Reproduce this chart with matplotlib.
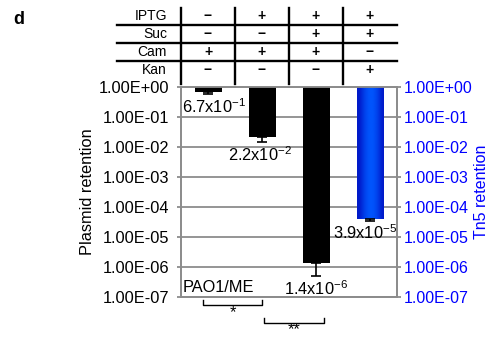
import numpy as np
import matplotlib
matplotlib.use("Agg")
import matplotlib.pyplot as plt
from matplotlib.ticker import FuncFormatter, FixedLocator
import matplotlib.transforms as mtransforms
from matplotlib.colors import LinearSegmentedColormap

plt.rcParams['font.family'] = ['Liberation Sans', 'DejaVu Sans']
plt.rcParams['mathtext.fontset'] = 'custom'
plt.rcParams['mathtext.rm'] = 'Liberation Sans'
plt.rcParams['mathtext.it'] = 'Liberation Sans:italic'
plt.rcParams['mathtext.bf'] = 'Liberation Sans:bold'

# ---- data ----
conditions = ['IPTG', 'Suc', 'Cam', 'Kan']
iptg = ['−', '+', '+', '+']
suc = ['−', '−', '+', '+']
cam = ['+', '+', '+', '−']
kan = ['−', '−', '−', '+']
retention = [0.67, 2.2e-2, 1.4e-6, 3.9e-5]
err_low = [0.58, 1.45e-2, 5.0e-7, 3.5e-5]
value_labels = [r'6.7x10$^{\mathregular{-1}}$', r'2.2x10$^{\mathregular{-2}}$',
                r'1.4x10$^{\mathregular{-6}}$', r'3.9x10$^{\mathregular{-5}}$']
strain_label = 'PAO1/ME'
sig_labels = ['*', '**']
yticks = [10.0 ** e for e in range(0, -8, -1)]

W, H = 490, 337
fig = plt.figure(figsize=(W / 100, H / 100), dpi=100)
ax = fig.add_axes([181 / W, 1 - 297 / H, 216 / W, 210 / H])
ax2 = ax.twinx()

x = np.arange(len(retention))
grey = '#8c8c8c'
blue = '#0000ff'
fs = 11.8
fs_r = 11.5

for a in (ax, ax2):
    a.set_yscale('log')
    a.set_ylim(1e-7, 1)
    a.set_xlim(-0.5, 3.5)
    a.yaxis.set_major_locator(FixedLocator(yticks))
    a.yaxis.set_minor_locator(FixedLocator([]))
    a.yaxis.set_major_formatter(FuncFormatter(lambda v, p: f"{v:.2E}"))
    for s in a.spines.values():
        s.set_color(grey)
        s.set_linewidth(1.3)
    a.tick_params(axis='y', which='major', length=3, width=1.3, color=grey)
    a.tick_params(axis='x', length=0, labelbottom=False)

ax.tick_params(axis='y', labelcolor='black', pad=5.5, labelsize=fs)
ax2.tick_params(axis='y', labelcolor=blue, pad=2, labelsize=fs_r)
ax.set_zorder(1)
ax.patch.set_visible(False)
ax2.set_zorder(0)

for yv in yticks:
    ax2.axhline(yv, color=grey, lw=1.3, zorder=0)

# black bars (plasmid retention), hanging from 1
for i in range(3):
    ax.bar(x[i], 1 - retention[i], bottom=retention[i], width=0.5,
           color='black', zorder=2)
    ax.errorbar(x[i], retention[i], yerr=[[retention[i] - err_low[i]], [0]],
                color='black', lw=1.2, capsize=3.6, capthick=1.2, zorder=3)

# blue bar (Tn5 retention) with gradient
b = ax.bar(x[3], 1 - retention[3], bottom=retention[3], width=0.5,
           color='#0040ff', zorder=2)[0]
grad = np.array([[0.0, 0.5, 0.85, 1.0, 0.85, 0.5, 0.0]])
cmap = LinearSegmentedColormap.from_list('bl', ['#0018c8', '#0058ff'])
im = ax.imshow(grad, cmap=cmap, aspect='auto', interpolation='bicubic',
               extent=[x[3] - 0.25, x[3] + 0.25, retention[3], 1], zorder=2)
im.set_clip_path(b)
ax.set_xlim(-0.5, 3.5)
ax.set_ylim(1e-7, 1)
ax.errorbar(x[3], retention[3], yerr=[[retention[3] - err_low[3]], [0]],
            color='black', lw=1.2, capsize=3.6, capthick=1.2, zorder=3)

# value labels
dx = [0.11, -0.03, 0.0, -0.09]
for i in range(4):
    ax.annotate(value_labels[i], (x[i] + dx[i], err_low[i]), xytext=(0, -2),
                textcoords='offset points', ha='center', va='top',
                fontsize=fs, zorder=5)

ax.text(0.2, 10 ** -6.68, strain_label, ha='center', va='center',
        fontsize=fs, zorder=5)

ax.set_ylabel('Plasmid retention', fontsize=fs, labelpad=3)
ax2.set_ylabel('Tn5 retention', fontsize=fs_r, color=blue, labelpad=1)

# ---- condition table above ----
tb = mtransforms.blended_transform_factory(ax.transData, fig.transFigure)
fy = lambda py: 1 - py / H
rows = [iptg, suc, cam, kan]
row_y = [16, 34, 52, 70]
line_y = [25, 43, 61]
for lbl, vals, ry in zip(conditions, rows, row_y):
    fig.text(167 / W, fy(ry), lbl, ha='right', va='center', fontsize=10)
    for i, v in enumerate(vals):
        ax.text(x[i], fy(ry), v, transform=tb, ha='center', va='center',
                fontsize=10, fontweight='bold', clip_on=False)
for ly in line_y:
    fig.add_artist(plt.Line2D([117 / W, 397 / W], [fy(ly), fy(ly)],
                              color='black', lw=1.7))
for xb in x - 0.5:
    fig.add_artist(plt.Line2D([xb, xb], [fy(8), fy(84)], transform=tb,
                              color='black', lw=1.7))

# ---- significance brackets ----
def bracket(x0, x1, ytop, ybot, label, ylab):
    fig.add_artist(plt.Line2D([x0 / W, x0 / W, x1 / W, x1 / W],
                              [fy(ytop), fy(ybot), fy(ybot), fy(ytop)],
                              color='black', lw=1.0))
    fig.text((x0 + x1) / 2 / W, fy(ylab), label, ha='center', va='center',
             fontsize=fs)

bracket(203, 262, 300, 305, sig_labels[0], 313)
bracket(264, 324, 318, 323, sig_labels[1], 330)

fig.text(13 / W, fy(20), 'd', ha='left', va='center', fontsize=13,
         fontweight='bold')

fig.savefig('out.png', dpi=100)
